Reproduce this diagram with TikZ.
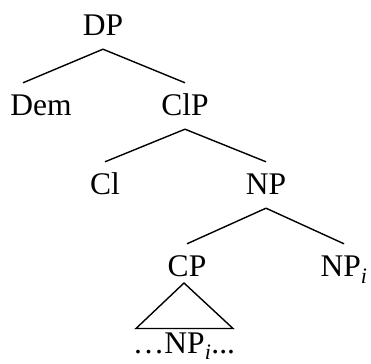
\documentclass[tikz,border=0pt]{standalone}
\usepackage{fontspec}
\setmainfont{Liberation Serif}
\usetikzlibrary{calc}
\begin{document}
\begin{tikzpicture}[x=1pt,y=1pt,
  cat/.style={anchor=base,inner xsep=0pt,inner ysep=3pt,text height=30pt,text depth=10pt,
    font=\fontsize{31.5}{36}\selectfont},
  branch/.style={line width=1.4pt}]
\useasboundingbox (0,0) rectangle (371,363);
\node[cat] (dp)   at (103,327) {DP};
\node[cat] (dem)  at (41,247)  {Dem};
\node[cat] (clp)  at (185,247) {ClP};
\node[cat] (cl)   at (105,168) {Cl};
\node[cat] (np)   at (266,168) {NP};
\node[cat] (cp)   at (187,86)  {CP};
\node[cat] (npi)  at (344,86)  {NP\textsubscript{\textit{i}}};
\node[cat] (leaf) at (184,9.5) {\ldots NP\textsubscript{\textit{i}}...};
\coordinate (demtop) at ($(dem.north)+(-18,0)$);
\draw[branch] (dp.south) -- (demtop);
\draw[branch] (dp.south) -- (clp.north);
\draw[branch] (clp.south) -- (cl.north);
\draw[branch] (clp.south) -- (np.north);
\draw[branch] (np.south) -- (cp.north);
\draw[branch] (np.south) -- (npi.north);
\draw[branch,line join=miter] ($(cp.base)+(-3,-6)$) -- ($(leaf.base)+(-48,25)$) -- ($(leaf.base)+(49,25)$) -- cycle;
\end{tikzpicture}
\end{document}
